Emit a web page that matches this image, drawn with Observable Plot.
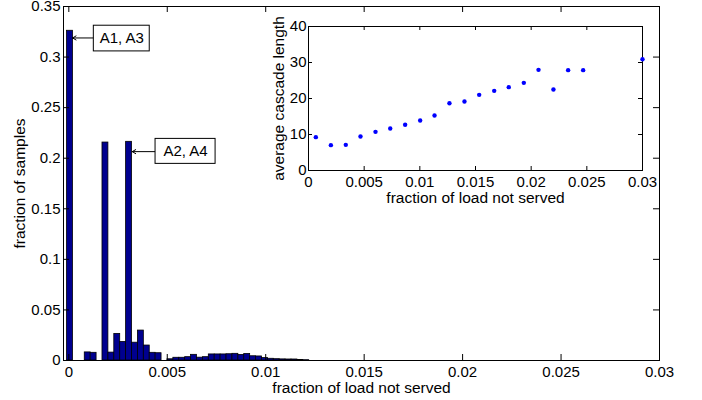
<!DOCTYPE html>
<html><head><meta charset="utf-8">
<script src="https://cdn.jsdelivr.net/npm/d3@7"></script>
<script src="https://cdn.jsdelivr.net/npm/@observablehq/plot@0.6"></script>
<style>
body{margin:0;background:#fff;}
#wrap{position:relative;width:702px;height:400px;}
#wrap svg{position:absolute;left:0;top:0;}
</style></head><body><div id="wrap"></div>
<script>
// ---- histogram (main axes) ----
const binValues = [0.326, 0, 0, 0.008, 0.0076, 0, 0.2155, 0.0078, 0.0263, 0.0183,
  0.2162, 0.0176, 0.0296, 0.0148, 0.0076, 0.0072, 0, 0.0012, 0.0027, 0.0027,
  0.0033, 0.0056, 0.0028, 0.0033, 0.006, 0.006, 0.006, 0.0062, 0.0066, 0.0055,
  0.0064, 0.0042, 0.004, 0.0024, 0.0017, 0.0013, 0.0011, 0.001, 0.001, 0.0004, 0.0003];
const binFirstCenter = 0.00006;
const binWidth = 0.0003;
const xTicks = [0, 0.005, 0.01, 0.015, 0.02, 0.025, 0.03];
const xTickLabels = ["0", "0.005", "0.01", "0.015", "0.02", "0.025", "0.03"];
const yTicks = [0, 0.05, 0.1, 0.15, 0.2, 0.25, 0.3, 0.35];
const yTickLabels = ["0", "0.05", "0.1", "0.15", "0.2", "0.25", "0.3", "0.35"];
const mainXLabel = "fraction of load not served";
const mainYLabel = "fraction of samples";

// ---- annotations ----
const annoLabels = ["A1, A3", "A2, A4"];
const annoBoxX1 = [0.00127, 0.004405];
const annoBoxX2 = [0.00411, 0.007454];
const annoBoxY1 = [0.3056, 0.1944];
const annoBoxY2 = [0.331, 0.2191];
const annoArrowY = [0.3189, 0.2065];
const annoTipX = [0.00019, 0.00322];

// ---- inset ----
const insetX = [0.00066, 0.00201, 0.00335, 0.00467, 0.00602, 0.00734, 0.00868, 0.01003, 0.01132, 0.01266,
  0.01401, 0.01533, 0.01668, 0.01799, 0.01934, 0.02066, 0.022, 0.02332, 0.02467, 0.03];
const insetY = [9.26, 7.04, 7.13, 9.44, 10.74, 11.67, 12.69, 13.89, 15.28, 18.7,
  19.17, 21.02, 22.13, 23.15, 24.35, 27.96, 22.5, 27.87, 27.87, 30.9];
const insetXTicks = [0, 0.005, 0.01, 0.015, 0.02, 0.025, 0.03];
const insetXTickLabels = ["0", "0.005", "0.01", "0.015", "0.02", "0.025", "0.03"];
const insetYTicks = [0, 10, 20, 30, 40];
const insetYTickLabels = ["0", "10", "20", "30", "40"];
const insetXLabel = "fraction of load not served";
const insetYLabel = "average cascade length";

const FONT = "'Liberation Sans', Arial, Helvetica, sans-serif";
const W = 702, H = 400;

// main
const mL = 63, mR = 43, mT = 6, mB = 40;
const fw = W - mL - mR, fh = H - mT - mB;
const bins = binValues.map((v, i) => ({
  x1: binFirstCenter + (i - 0.5) * binWidth,
  x2: binFirstCenter + (i + 0.5) * binWidth,
  y: v
})).filter(d => d.y > 0);
const annos = annoLabels.map((t, i) => ({
  t, bx1: annoBoxX1[i], bx2: annoBoxX2[i], by1: annoBoxY1[i], by2: annoBoxY2[i],
  ay: annoArrowY[i], tx: annoTipX[i]
}));
const mt = 6;
const main = Plot.plot({
  width: W, height: H, marginLeft: mL, marginRight: mR, marginTop: mT, marginBottom: mB,
  style: {fontFamily: FONT, fontSize: "15px", color: "black", background: "white"},
  x: {domain: [-0.00027, 0.03]},
  y: {domain: [0, 0.35]},
  marks: [
    Plot.rectY(bins, {x1: "x1", x2: "x2", y: "y", fill: "#00008f", stroke: "black", strokeWidth: 0.8}),
    Plot.frame({stroke: "black"}),
    Plot.tickX(xTicks, {x: d => d, insetTop: fh - mt, stroke: "black"}),
    Plot.tickX(xTicks, {x: d => d, insetBottom: fh - mt, stroke: "black"}),
    Plot.tickY(yTicks, {y: d => d, insetRight: fw - mt, stroke: "black"}),
    Plot.tickY(yTicks, {y: d => d, insetLeft: fw - mt, stroke: "black"}),
    Plot.axisX(xTicks, {tickSize: 0, tickPadding: 5.5, tickFormat: d => xTickLabels[xTicks.indexOf(d)], label: null}),
    Plot.axisY(yTicks, {tickSize: 0, tickPadding: 3, tickFormat: d => yTickLabels[yTicks.indexOf(d)], label: null}),
    Plot.text([mainXLabel], {text: d => d, frameAnchor: "bottom", dy: 27.5, lineAnchor: "middle", textAnchor: "middle", fontSize: 15.5, fill: "black"}),
    Plot.text([mainYLabel], {text: d => d, frameAnchor: "left", dx: -43, rotate: -90, lineAnchor: "middle", textAnchor: "middle", fontSize: 15.5, fill: "black"}),
    Plot.arrow(annos, {x1: "bx1", y1: "ay", x2: "tx", y2: "ay", stroke: "black", strokeWidth: 1, headLength: 6, bend: 0}),
    Plot.rect(annos, {x1: "bx1", x2: "bx2", y1: "by1", y2: "by2", fill: "white", stroke: "black", strokeWidth: 1}),
    Plot.text(annos, {x: d => (d.bx1 + d.bx2) / 2, y: d => (d.by1 + d.by2) / 2, text: "t", fontSize: 15, fill: "black", lineAnchor: "middle"})
  ]
});

// inset
const iL = 308, iR = W - 642, iT = 26, iB = H - 170;
const ifw = W - iL - iR, ifh = H - iT - iB;
const it = 4;
const pts = insetX.map((x, i) => ({x, y: insetY[i]}));
const inset = Plot.plot({
  width: W, height: H, marginLeft: iL, marginRight: iR, marginTop: iT, marginBottom: iB,
  style: {fontFamily: FONT, fontSize: "15px", color: "black", background: "transparent"},
  x: {domain: [0, 0.03]},
  y: {domain: [0, 40]},
  marks: [
    Plot.frame({fill: "white", stroke: "black"}),
    Plot.tickX(insetXTicks, {x: d => d, insetTop: ifh - it, stroke: "black"}),
    Plot.tickX(insetXTicks, {x: d => d, insetBottom: ifh - it, stroke: "black"}),
    Plot.tickY(insetYTicks, {y: d => d, insetRight: ifw - it, stroke: "black"}),
    Plot.tickY(insetYTicks, {y: d => d, insetLeft: ifw - it, stroke: "black"}),
    Plot.dot(pts, {x: "x", y: "y", r: 2.2, fill: "#0000ff", stroke: "none"}),
    Plot.axisX(insetXTicks, {tickSize: 0, tickPadding: 6, tickFormat: d => insetXTickLabels[insetXTicks.indexOf(d)], label: null}),
    Plot.axisY(insetYTicks, {tickSize: 0, tickPadding: 2, tickFormat: d => insetYTickLabels[insetYTicks.indexOf(d)], label: null}),
    Plot.text([insetXLabel], {text: d => d, frameAnchor: "bottom", dy: 27.5, lineAnchor: "middle", textAnchor: "middle", fontSize: 15.5, fill: "black"}),
    Plot.text([insetYLabel], {text: d => d, frameAnchor: "left", dx: -29, rotate: -90, lineAnchor: "middle", textAnchor: "middle", fontSize: 15.5, fill: "black"})
  ]
});

const wrap = document.getElementById("wrap");
wrap.appendChild(main);
wrap.appendChild(inset);
</script></body></html>
